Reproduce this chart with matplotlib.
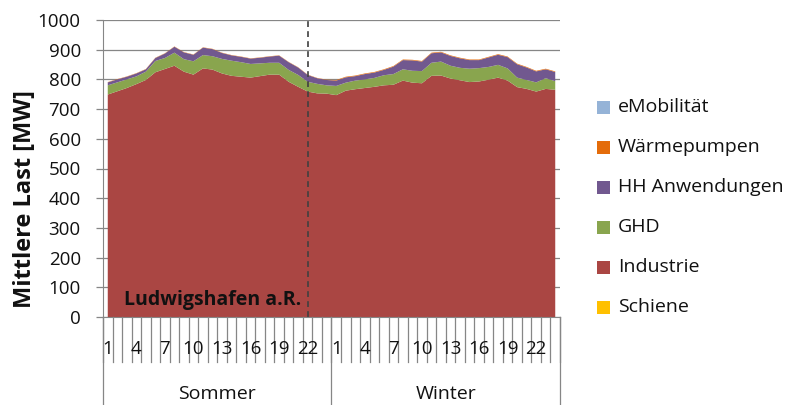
import numpy as np
import matplotlib
matplotlib.use("Agg")
import matplotlib.pyplot as plt
from matplotlib.patches import Rectangle

plt.rcParams['font.family'] = ['Open Sans', 'DejaVu Sans']

# ---------------- data ----------------
hours = list(range(1, 25))
seasons = ["Sommer", "Winter"]
site_label = "Ludwigshafen a.R."
marker_hour_sommer = 22

industrie_sommer = [749, 760, 771, 784, 798, 824, 835, 846, 826, 816, 837, 833,
                    820, 812, 809, 806, 811, 816, 816, 792, 775, 759, 753, 752]
industrie_winter = [747, 762, 767, 771, 775, 780, 782, 796, 789, 787, 812, 813,
                    803, 797, 791, 793, 799, 806, 796, 774, 768, 759, 768, 765]
ghd_sommer = [31, 30, 29, 26, 28, 38, 37, 44, 42, 45, 45, 45,
              49, 51, 49, 46, 43, 40, 40, 40, 40, 33, 32, 28]
ghd_winter = [31, 27, 29, 29, 30, 34, 36, 38, 40, 41, 44, 47,
              43, 42, 45, 45, 43, 43, 41, 32, 30, 31, 36, 29]
hh_sommer = [10, 10, 9, 10, 8, 10, 15, 20, 23, 22, 25, 24,
             20, 18, 18, 18, 19, 21, 24, 26, 25, 23, 19, 18]
hh_winter = [18, 18, 15, 18, 18, 18, 25, 31, 35, 32, 32, 31,
             33, 32, 29, 27, 32, 34, 38, 45, 42, 37, 30, 31]
wp_sommer = [1, 1, 1, 1, 1, 1, 1, 1, 1, 1, 1, 1,
             1, 1, 1, 1, 1, 1, 1, 1, 1, 1, 1, 1]
wp_winter = [2, 2, 2, 2, 2, 2, 2, 2, 2, 2, 2, 2,
             2, 2, 2, 2, 2, 2, 2, 2, 2, 2, 2, 2]
emob_sommer = [0, 0, 0, 0, 0, 0, 0, 0, 0, 0, 0, 0,
               0, 0, 0, 0, 0, 0, 0, 0, 0, 0, 0, 0]
emob_winter = [0, 0, 0, 0, 0, 0, 0, 0, 0, 0, 0, 0,
               0, 0, 0, 0, 0, 0, 0, 0, 0, 0, 0, 0]
schiene_sommer = [0, 0, 0, 0, 0, 0, 0, 0, 0, 0, 0, 0,
                  0, 0, 0, 0, 0, 0, 0, 0, 0, 0, 0, 0]
schiene_winter = [0, 0, 0, 0, 0, 0, 0, 0, 0, 0, 0, 0,
                  0, 0, 0, 0, 0, 0, 0, 0, 0, 0, 0, 0]

series_names = ["Schiene", "Industrie", "GHD", "HH Anwendungen", "Wärmepumpen", "eMobilität"]
series_colors = ["#FFC000", "#AA4643", "#89A54E", "#71588F", "#E46C0A", "#95B3D7"]
y_ticks = [0, 100, 200, 300, 400, 500, 600, 700, 800, 900, 1000]

series = [schiene_sommer + schiene_winter,
          industrie_sommer + industrie_winter,
          ghd_sommer + ghd_winter,
          hh_sommer + hh_winter,
          wp_sommer + wp_winter,
          emob_sommer + emob_winter]

# ---------------- figure ----------------
W, H = 789, 405
fig = plt.figure(figsize=(W / 100, H / 100), dpi=100)
L, R, T, B = 103, 560, 20, 317
ax = fig.add_axes([L / W, 1 - B / H, (R - L) / W, (B - T) / H])

n = len(hours) * len(seasons)
x = np.arange(n)
ax.stackplot(x, *series, colors=series_colors, linewidth=0, antialiased=True)

ax.set_xlim(-0.5, n - 0.5)
ax.set_ylim(y_ticks[0], y_ticks[-1])
ax.set_yticks(y_ticks)
ax.set_xticks([])
grey = "#868686"
ax.yaxis.grid(True, color=grey, lw=0.9)
ax.set_axisbelow(True)
for s in ["top", "right"]:
    ax.spines[s].set_visible(False)
ax.spines["left"].set_color(grey)
ax.spines["bottom"].set_color(grey)
ax.tick_params(axis="y", direction="out", length=5, color=grey, width=0.9,
               labelsize=13.5, pad=11, labelcolor="#111111")

# dashed marker line
ax.axvline(hours.index(marker_hour_sommer), color="#404040", lw=1.2,
           ls=(0, (3.5, 2.5)))

# site label
ax.text((124 - L) / (R - L), (B - 300.5) / (B - T), site_label, transform=ax.transAxes,
        fontsize=14, fontweight="bold", ha="left", va="center", color="#111111")

# category axis decorations
trans = ax.get_xaxis_transform()
ph = B - T
y_tick_end = -(362 - B) / ph
y_bottom = -(H - B) / ph
for k in range(n + 1):
    ax.plot([k - 0.5, k - 0.5], [0, y_tick_end], transform=trans, color=grey,
            lw=0.9, clip_on=False)
for g in range(len(seasons) + 1):
    xp = g * len(hours) - 0.5
    ax.plot([xp, xp], [0, y_bottom], transform=trans, color=grey, lw=0.9, clip_on=False)
for g, season in enumerate(seasons):
    for j in range(0, len(hours), 3):
        ax.text(g * len(hours) + j, -(349 - B) / ph, str(hours[j]), transform=trans,
                ha="center", va="center", fontsize=13.5, color="#111111")
    ax.text(g * len(hours) + (len(hours) - 1) / 2, -(394 - B) / ph, season,
            transform=trans, ha="center", va="center", fontsize=14, color="#111111")

# y label
fig.text(25 / W, 1 - 199 / H, "Mittlere Last [MW]", rotation=90, fontsize=17,
         fontweight="bold", ha="center", va="center", color="#111111")

# legend (top entry = last series)
for k, (name, col) in enumerate(zip(series_names[::-1], series_colors[::-1])):
    yc = 107.3 + 40 * k
    fig.add_artist(Rectangle((597 / W, 1 - (yc + 6.5) / H), 13 / W, 13 / H,
                             transform=fig.transFigure, facecolor=col, edgecolor="none"))
    fig.text(618 / W, 1 - yc / H, name, fontsize=14, ha="left", va="center",
             color="#111111")

fig.savefig("out.png", dpi=100)
